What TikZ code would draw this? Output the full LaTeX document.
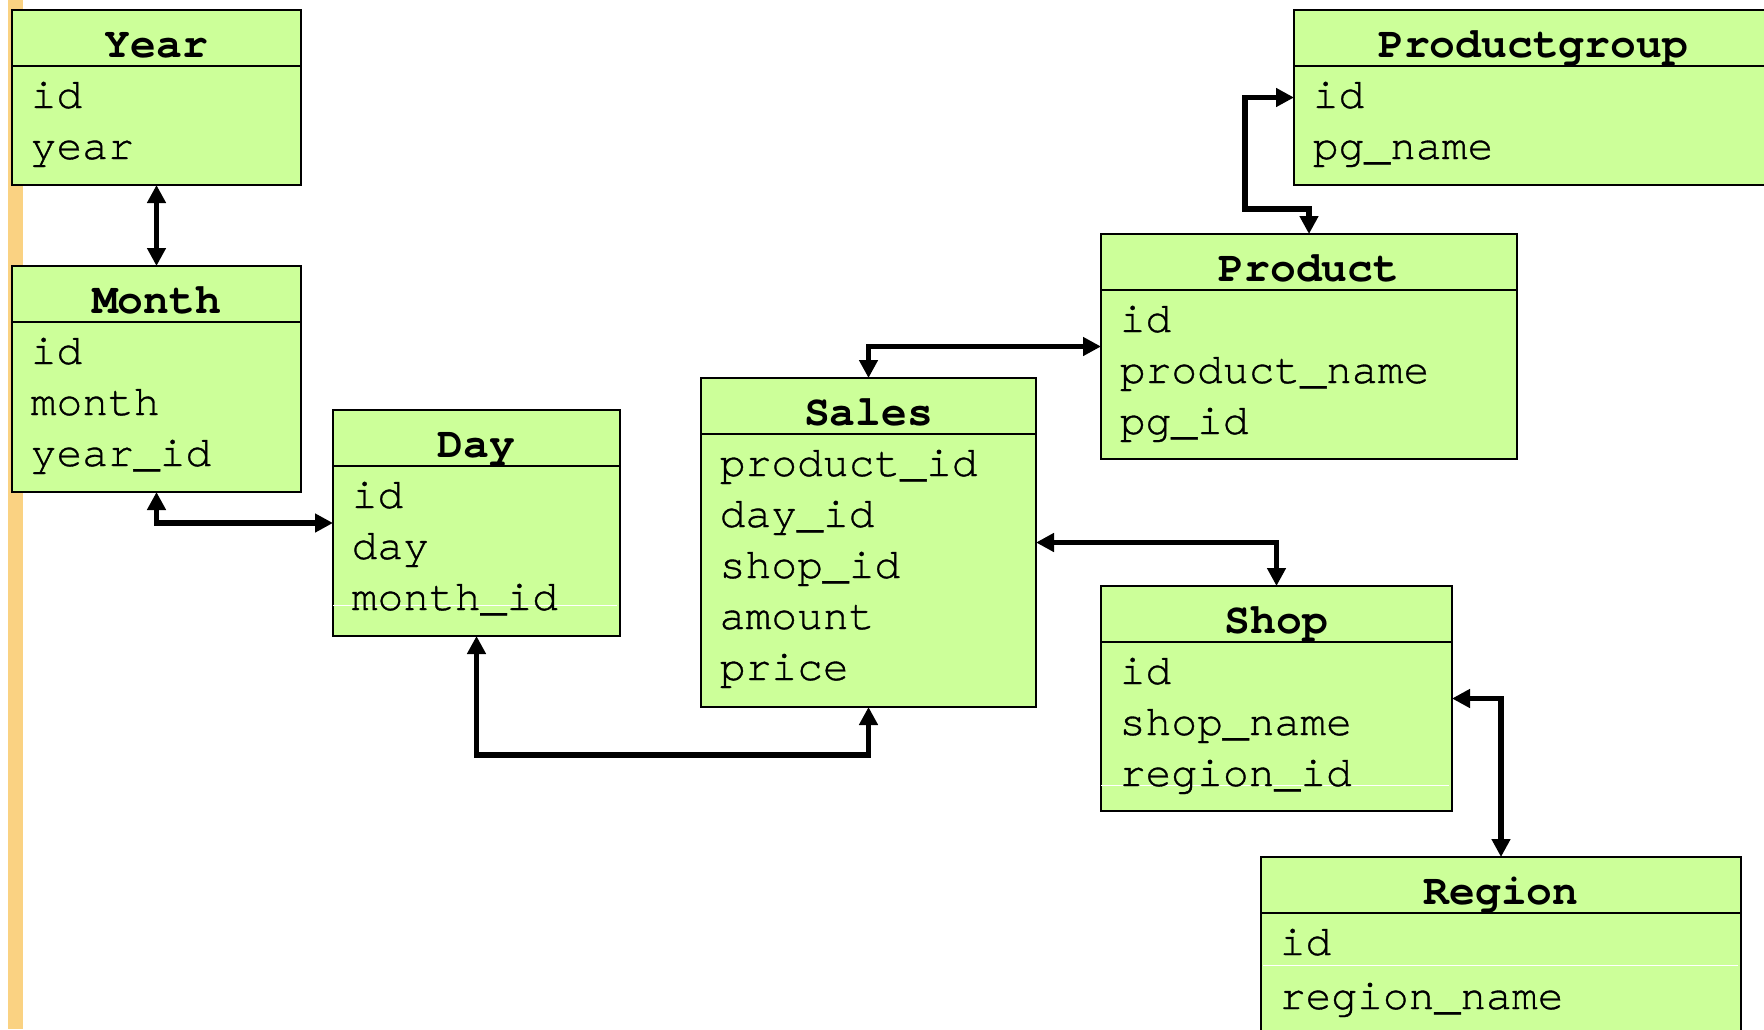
\documentclass[tikz,border=0pt]{standalone}
\usepackage{fontspec}
\setmonofont{TeX Gyre Cursor}
\newfontfamily\fldfont{TeX Gyre Cursor}[FakeBold=0.8]
\usetikzlibrary{arrows.meta}
\definecolor{tblgreen}{RGB}{204,255,153}
\definecolor{barorange}{RGB}{250,210,130}
\tikzset{
  tbl/.style={draw=black, line width=2pt, fill=tblgreen, inner sep=0pt, outer sep=0pt},
  sepline/.style={draw=black, line width=2.2pt},
  whiteline/.style={draw=white, line width=1pt},
  ttl/.style={inner sep=0pt, font=\fontsize{43}{43}\selectfont\ttfamily\bfseries},
  fld/.style={inner sep=0pt, anchor=base west, font=\fontsize{43}{43}\selectfont\fldfont},
  conn/.style={draw=black, line width=5.5pt, line join=miter,
    {Triangle[length=18pt,width=18pt]}-{Triangle[length=18pt,width=18pt]}},
}
% name, x, y, w, h, title
\newcommand\erbox[6]{%
  \node[tbl, minimum width=#4pt, minimum height=#5pt, anchor=north west] (#1) at (#2,#3) {};
  \draw[sepline] ([yshift=-56pt]#1.north west) -- ([yshift=-56pt]#1.north east);
  \node[ttl, anchor=base] (#1-t) at ([yshift=-47pt]#1.north) {#6};
}
% table name, row name, yshift from top, text
\newcommand\erfld[4]{%
  \node[fld] (#1-#2) at ([xshift=18.5pt,yshift=-#3pt]#1.north west) {#4};
}
\begin{document}
\begin{tikzpicture}[x=1pt,y=-1pt]
\useasboundingbox (0,0) rectangle (1764,1029);
\clip (0,0) rectangle (1764,1029);
\fill[barorange] (8,0) rectangle (23,1029);

% Year
\erbox{year}{12}{10}{289}{175}{Year}
\erfld{year}{r1}{98}{id}
\erfld{year}{r2}{149}{year}

% Month
\erbox{month}{12}{266}{289}{226}{Month}
\erfld{month}{r1}{98}{id}
\erfld{month}{r2}{149}{month}
\erfld{month}{r3}{200}{year\_id}

% Day
\erbox{day}{333}{410}{287}{226}{Day}
\draw[whiteline] ([yshift=-195pt]day.north west) -- ([yshift=-195pt,xshift=-3pt]day.north east);
\erfld{day}{r1}{98}{id}
\erfld{day}{r2}{149}{day}
\erfld{day}{r3}{200}{month\_id}

% Sales
\erbox{sales}{701}{378}{335}{329}{Sales}
\erfld{sales}{r1}{98}{product\_id}
\erfld{sales}{r2}{149}{day\_id}
\erfld{sales}{r3}{200}{shop\_id}
\erfld{sales}{r4}{251}{amount}
\erfld{sales}{r5}{302}{price}

% Product
\erbox{product}{1101}{234}{416}{225}{Product}
\erfld{product}{r1}{98}{id}
\erfld{product}{r2}{149}{product\_name}
\erfld{product}{r3}{200}{pg\_id}

% Productgroup (runs past the right edge)
\node[tbl, minimum width=520pt, minimum height=175pt, anchor=north west] (pg) at (1294,10) {};
\draw[sepline] ([yshift=-56pt]pg.north west) -- ([yshift=-56pt]pg.north east);
\node[ttl, anchor=base] (pg-t) at (1533,57) {Productgroup};
\erfld{pg}{r1}{98}{id}
\erfld{pg}{r2}{149}{pg\_name}

% Shop
\erbox{shop}{1101}{586}{351}{225}{Shop}
\draw[whiteline] ([yshift=-199pt]shop.north west) -- ([yshift=-199pt,xshift=-3pt]shop.north east);
\erfld{shop}{r1}{98}{id}
\erfld{shop}{r2}{149}{shop\_name}
\erfld{shop}{r3}{200}{region\_id}

% Region (runs past the bottom edge)
\erbox{region}{1261}{857}{480}{220}{Region}
\draw[whiteline] ([yshift=-108pt,xshift=2pt]region.north west) -- ([yshift=-108pt,xshift=-3pt]region.north east);
\erfld{region}{r1}{98}{id}
\erfld{region}{r2}{152}{region\_name}

% connectors
\coordinate (daydrop) at (476.5,755);
\coordinate (pgbend) at (1245,209);
\draw[conn] (year.south) -- (month.north);
\draw[conn] (month.south) |- (day.west);
\draw[conn] (day.south) -- (daydrop) -| (sales.south);
\draw[conn] (sales.north) |- (product.west);
\draw[conn] (sales.east) -| (shop.north);
\draw[conn] (shop.east) -| (region.north);
\draw[conn] (pg.west) -| (pgbend) -| (product.north);
\end{tikzpicture}
\end{document}
